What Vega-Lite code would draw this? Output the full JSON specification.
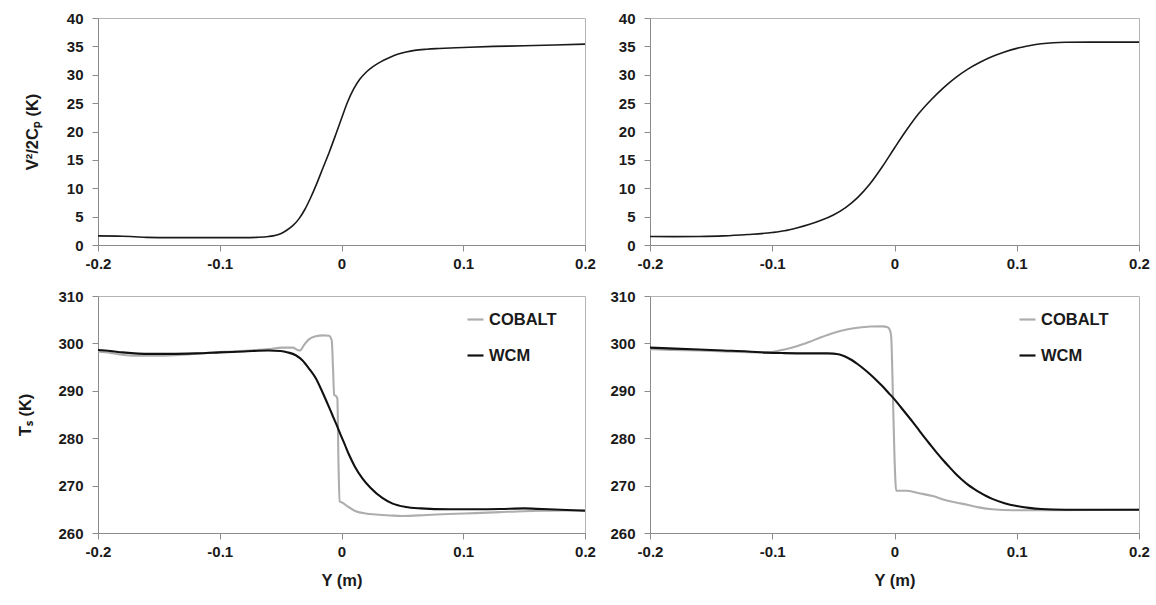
{
  "$schema": "https://vega.github.io/schema/vega-lite/v6.json",
  "background": "white",
  "padding": {"left": 17, "top": 10, "right": 5, "bottom": 5},
  "datasets": {
    "tl": [
      {"Y": -0.2, "v": 1.6}, {"Y": -0.18, "v": 1.55}, {"Y": -0.17, "v": 1.45}, {"Y": -0.16, "v": 1.35},
      {"Y": -0.14, "v": 1.3}, {"Y": -0.12, "v": 1.3}, {"Y": -0.1, "v": 1.3}, {"Y": -0.08, "v": 1.3},
      {"Y": -0.07, "v": 1.35}, {"Y": -0.06, "v": 1.5}, {"Y": -0.05, "v": 2.0}, {"Y": -0.045, "v": 2.6},
      {"Y": -0.04, "v": 3.4}, {"Y": -0.035, "v": 4.6}, {"Y": -0.03, "v": 6.3}, {"Y": -0.025, "v": 8.5},
      {"Y": -0.02, "v": 11.0}, {"Y": -0.015, "v": 13.7}, {"Y": -0.01, "v": 16.4}, {"Y": -0.005, "v": 19.3},
      {"Y": 0.0, "v": 22.3}, {"Y": 0.005, "v": 25.2}, {"Y": 0.01, "v": 27.5}, {"Y": 0.015, "v": 29.2},
      {"Y": 0.02, "v": 30.4}, {"Y": 0.025, "v": 31.3}, {"Y": 0.03, "v": 32.0}, {"Y": 0.035, "v": 32.6},
      {"Y": 0.04, "v": 33.1}, {"Y": 0.046, "v": 33.6}, {"Y": 0.053, "v": 34.0}, {"Y": 0.06, "v": 34.3},
      {"Y": 0.07, "v": 34.5}, {"Y": 0.08, "v": 34.62}, {"Y": 0.1, "v": 34.8}, {"Y": 0.125, "v": 35.0},
      {"Y": 0.15, "v": 35.1}, {"Y": 0.175, "v": 35.25}, {"Y": 0.2, "v": 35.4}
    ],
    "tr": [
      {"Y": -0.2, "v": 1.5}, {"Y": -0.18, "v": 1.47}, {"Y": -0.16, "v": 1.5}, {"Y": -0.14, "v": 1.6},
      {"Y": -0.12, "v": 1.85}, {"Y": -0.1, "v": 2.2}, {"Y": -0.09, "v": 2.5}, {"Y": -0.08, "v": 3.0},
      {"Y": -0.07, "v": 3.6}, {"Y": -0.06, "v": 4.35}, {"Y": -0.05, "v": 5.3}, {"Y": -0.04, "v": 6.6},
      {"Y": -0.03, "v": 8.4}, {"Y": -0.02, "v": 10.8}, {"Y": -0.01, "v": 13.8}, {"Y": 0.0, "v": 17.1},
      {"Y": 0.01, "v": 20.3}, {"Y": 0.02, "v": 23.2}, {"Y": 0.03, "v": 25.6}, {"Y": 0.04, "v": 27.7},
      {"Y": 0.05, "v": 29.5}, {"Y": 0.06, "v": 31.0}, {"Y": 0.07, "v": 32.2}, {"Y": 0.08, "v": 33.2},
      {"Y": 0.09, "v": 34.0}, {"Y": 0.1, "v": 34.65}, {"Y": 0.11, "v": 35.1}, {"Y": 0.12, "v": 35.45},
      {"Y": 0.13, "v": 35.65}, {"Y": 0.14, "v": 35.72}, {"Y": 0.16, "v": 35.75}, {"Y": 0.2, "v": 35.75}
    ],
    "bl": [
      {"s": "COBALT", "Y": -0.2, "v": 298.3}, {"s": "COBALT", "Y": -0.19, "v": 298.0}, {"s": "COBALT", "Y": -0.18, "v": 297.6},
      {"s": "COBALT", "Y": -0.17, "v": 297.4}, {"s": "COBALT", "Y": -0.15, "v": 297.4}, {"s": "COBALT", "Y": -0.13, "v": 297.6},
      {"s": "COBALT", "Y": -0.11, "v": 298.0}, {"s": "COBALT", "Y": -0.09, "v": 298.3}, {"s": "COBALT", "Y": -0.07, "v": 298.6},
      {"s": "COBALT", "Y": -0.06, "v": 298.8}, {"s": "COBALT", "Y": -0.0486, "v": 299.1}, {"s": "COBALT", "Y": -0.04, "v": 299.1},
      {"s": "COBALT", "Y": -0.036, "v": 298.6}, {"s": "COBALT", "Y": -0.034, "v": 298.5}, {"s": "COBALT", "Y": -0.031, "v": 299.6},
      {"s": "COBALT", "Y": -0.027, "v": 300.8}, {"s": "COBALT", "Y": -0.0212, "v": 301.5}, {"s": "COBALT", "Y": -0.015, "v": 301.7},
      {"s": "COBALT", "Y": -0.0103, "v": 301.6}, {"s": "COBALT", "Y": -0.008, "v": 300.6}, {"s": "COBALT", "Y": -0.007, "v": 295.0},
      {"s": "COBALT", "Y": -0.006, "v": 289.1}, {"s": "COBALT", "Y": -0.0045, "v": 288.9}, {"s": "COBALT", "Y": -0.0034, "v": 288.4},
      {"s": "COBALT", "Y": -0.0025, "v": 275.0}, {"s": "COBALT", "Y": -0.0015, "v": 266.7}, {"s": "COBALT", "Y": 0.0007, "v": 266.4},
      {"s": "COBALT", "Y": 0.005, "v": 265.6}, {"s": "COBALT", "Y": 0.0117, "v": 264.6}, {"s": "COBALT", "Y": 0.02, "v": 264.1},
      {"s": "COBALT", "Y": 0.028, "v": 263.9}, {"s": "COBALT", "Y": 0.04, "v": 263.7}, {"s": "COBALT", "Y": 0.05, "v": 263.6},
      {"s": "COBALT", "Y": 0.07, "v": 263.8}, {"s": "COBALT", "Y": 0.088, "v": 264.0}, {"s": "COBALT", "Y": 0.11, "v": 264.2},
      {"s": "COBALT", "Y": 0.13, "v": 264.4}, {"s": "COBALT", "Y": 0.15, "v": 264.6}, {"s": "COBALT", "Y": 0.17, "v": 264.7},
      {"s": "COBALT", "Y": 0.2, "v": 264.8},
      {"s": "WCM", "Y": -0.2, "v": 298.6}, {"s": "WCM", "Y": -0.19, "v": 298.4}, {"s": "WCM", "Y": -0.18, "v": 298.1},
      {"s": "WCM", "Y": -0.17, "v": 297.9}, {"s": "WCM", "Y": -0.16, "v": 297.8}, {"s": "WCM", "Y": -0.14, "v": 297.8},
      {"s": "WCM", "Y": -0.12, "v": 297.9}, {"s": "WCM", "Y": -0.1, "v": 298.1}, {"s": "WCM", "Y": -0.08, "v": 298.3},
      {"s": "WCM", "Y": -0.06, "v": 298.5}, {"s": "WCM", "Y": -0.05, "v": 298.4}, {"s": "WCM", "Y": -0.044, "v": 298.1},
      {"s": "WCM", "Y": -0.0376, "v": 297.5}, {"s": "WCM", "Y": -0.032, "v": 296.4}, {"s": "WCM", "Y": -0.0267, "v": 294.7},
      {"s": "WCM", "Y": -0.021, "v": 292.6}, {"s": "WCM", "Y": -0.0158, "v": 289.8}, {"s": "WCM", "Y": -0.0115, "v": 287.3},
      {"s": "WCM", "Y": -0.0075, "v": 284.9}, {"s": "WCM", "Y": -0.004, "v": 282.8}, {"s": "WCM", "Y": -0.0007, "v": 280.7},
      {"s": "WCM", "Y": 0.0028, "v": 278.6}, {"s": "WCM", "Y": 0.0062, "v": 276.5}, {"s": "WCM", "Y": 0.011, "v": 274.0},
      {"s": "WCM", "Y": 0.017, "v": 271.6}, {"s": "WCM", "Y": 0.024, "v": 269.5}, {"s": "WCM", "Y": 0.0335, "v": 267.4},
      {"s": "WCM", "Y": 0.042, "v": 266.2}, {"s": "WCM", "Y": 0.0527, "v": 265.5}, {"s": "WCM", "Y": 0.065, "v": 265.2},
      {"s": "WCM", "Y": 0.088, "v": 265.0}, {"s": "WCM", "Y": 0.11, "v": 265.0}, {"s": "WCM", "Y": 0.13, "v": 265.05},
      {"s": "WCM", "Y": 0.15, "v": 265.2}, {"s": "WCM", "Y": 0.16, "v": 265.1}, {"s": "WCM", "Y": 0.18, "v": 264.9},
      {"s": "WCM", "Y": 0.2, "v": 264.7}
    ],
    "br": [
      {"s": "COBALT", "Y": -0.2, "v": 298.8}, {"s": "COBALT", "Y": -0.18, "v": 298.6}, {"s": "COBALT", "Y": -0.16, "v": 298.5},
      {"s": "COBALT", "Y": -0.14, "v": 298.3}, {"s": "COBALT", "Y": -0.12, "v": 298.15}, {"s": "COBALT", "Y": -0.105, "v": 298.1},
      {"s": "COBALT", "Y": -0.1, "v": 298.2}, {"s": "COBALT", "Y": -0.09, "v": 298.7}, {"s": "COBALT", "Y": -0.08, "v": 299.4},
      {"s": "COBALT", "Y": -0.07, "v": 300.3}, {"s": "COBALT", "Y": -0.06, "v": 301.3}, {"s": "COBALT", "Y": -0.05, "v": 302.2},
      {"s": "COBALT", "Y": -0.04, "v": 302.9}, {"s": "COBALT", "Y": -0.03, "v": 303.3}, {"s": "COBALT", "Y": -0.02, "v": 303.55},
      {"s": "COBALT", "Y": -0.01, "v": 303.6}, {"s": "COBALT", "Y": -0.0055, "v": 303.4}, {"s": "COBALT", "Y": -0.0035, "v": 302.6},
      {"s": "COBALT", "Y": -0.0027, "v": 301.4}, {"s": "COBALT", "Y": -0.0014, "v": 290.1}, {"s": "COBALT", "Y": 0.0, "v": 276.0},
      {"s": "COBALT", "Y": 0.0014, "v": 268.9}, {"s": "COBALT", "Y": 0.0095, "v": 268.9}, {"s": "COBALT", "Y": 0.02, "v": 268.4},
      {"s": "COBALT", "Y": 0.0313, "v": 267.8}, {"s": "COBALT", "Y": 0.042, "v": 266.9}, {"s": "COBALT", "Y": 0.055, "v": 266.2},
      {"s": "COBALT", "Y": 0.069, "v": 265.4}, {"s": "COBALT", "Y": 0.08, "v": 265.0}, {"s": "COBALT", "Y": 0.0966, "v": 264.8},
      {"s": "COBALT", "Y": 0.124, "v": 264.8}, {"s": "COBALT", "Y": 0.2, "v": 264.9},
      {"s": "WCM", "Y": -0.2, "v": 299.1}, {"s": "WCM", "Y": -0.18, "v": 298.9}, {"s": "WCM", "Y": -0.16, "v": 298.7},
      {"s": "WCM", "Y": -0.14, "v": 298.5}, {"s": "WCM", "Y": -0.12, "v": 298.3}, {"s": "WCM", "Y": -0.105, "v": 298.05},
      {"s": "WCM", "Y": -0.09, "v": 297.95}, {"s": "WCM", "Y": -0.07, "v": 297.9}, {"s": "WCM", "Y": -0.055, "v": 297.9},
      {"s": "WCM", "Y": -0.05, "v": 297.85}, {"s": "WCM", "Y": -0.045, "v": 297.65}, {"s": "WCM", "Y": -0.04, "v": 297.2},
      {"s": "WCM", "Y": -0.035, "v": 296.5}, {"s": "WCM", "Y": -0.03, "v": 295.6}, {"s": "WCM", "Y": -0.025, "v": 294.6},
      {"s": "WCM", "Y": -0.02, "v": 293.5}, {"s": "WCM", "Y": -0.015, "v": 292.3}, {"s": "WCM", "Y": -0.01, "v": 291.0},
      {"s": "WCM", "Y": -0.005, "v": 289.6}, {"s": "WCM", "Y": 0.0, "v": 288.2}, {"s": "WCM", "Y": 0.005, "v": 286.6},
      {"s": "WCM", "Y": 0.01, "v": 285.0}, {"s": "WCM", "Y": 0.015, "v": 283.4}, {"s": "WCM", "Y": 0.02, "v": 281.7},
      {"s": "WCM", "Y": 0.025, "v": 280.0}, {"s": "WCM", "Y": 0.03, "v": 278.4}, {"s": "WCM", "Y": 0.035, "v": 276.8},
      {"s": "WCM", "Y": 0.04, "v": 275.3}, {"s": "WCM", "Y": 0.045, "v": 273.9}, {"s": "WCM", "Y": 0.05, "v": 272.5},
      {"s": "WCM", "Y": 0.055, "v": 271.3}, {"s": "WCM", "Y": 0.06, "v": 270.2}, {"s": "WCM", "Y": 0.065, "v": 269.3},
      {"s": "WCM", "Y": 0.07, "v": 268.5}, {"s": "WCM", "Y": 0.075, "v": 267.8}, {"s": "WCM", "Y": 0.08, "v": 267.2},
      {"s": "WCM", "Y": 0.09, "v": 266.3}, {"s": "WCM", "Y": 0.1, "v": 265.7}, {"s": "WCM", "Y": 0.11, "v": 265.3},
      {"s": "WCM", "Y": 0.12, "v": 265.05}, {"s": "WCM", "Y": 0.13, "v": 264.95}, {"s": "WCM", "Y": 0.15, "v": 264.9},
      {"s": "WCM", "Y": 0.2, "v": 264.9}
    ]
  },
  "columns": 2,
  "spacing": {"row": 51, "column": 65},
  "bounds": "flush",
  "align": "each",
  "concat": [
    {
      "width": 487, "height": 227,
      "data": {"name": "tl"},
      "mark": {"type": "line", "color": "#1a1a1a", "strokeWidth": 1.6, "interpolate": "monotone"},
      "encoding": {
        "x": {"field": "Y", "type": "quantitative", "scale": {"domain": [-0.2, 0.2], "nice": false},
              "axis": {"values": [-0.2, -0.1, 0, 0.1, 0.2], "title": null,
                       "labelExpr": "datum.value == 0 ? '0' : (datum.value < 0 ? '-' : '') + format(abs(datum.value), '.1f')"}},
        "y": {"field": "v", "type": "quantitative", "scale": {"domain": [0, 40], "nice": false},
              "axis": {"values": [0, 5, 10, 15, 20, 25, 30, 35, 40], "title": "V²/2Cₚ (K)", "titlePadding": 26}}
      }
    },
    {
      "width": 489, "height": 227,
      "data": {"name": "tr"},
      "mark": {"type": "line", "color": "#1a1a1a", "strokeWidth": 1.6, "interpolate": "monotone"},
      "encoding": {
        "x": {"field": "Y", "type": "quantitative", "scale": {"domain": [-0.2, 0.2], "nice": false},
              "axis": {"values": [-0.2, -0.1, 0, 0.1, 0.2], "title": null,
                       "labelExpr": "datum.value == 0 ? '0' : (datum.value < 0 ? '-' : '') + format(abs(datum.value), '.1f')"}},
        "y": {"field": "v", "type": "quantitative", "scale": {"domain": [0, 40], "nice": false},
              "axis": {"values": [0, 5, 10, 15, 20, 25, 30, 35, 40], "title": null}}
      }
    },
    {
      "width": 487, "height": 237,
      "data": {"name": "bl"},
      "mark": {"type": "line", "strokeWidth": 2.1, "interpolate": "monotone"},
      "encoding": {
        "x": {"field": "Y", "type": "quantitative", "scale": {"domain": [-0.2, 0.2], "nice": false},
              "axis": {"values": [-0.2, -0.1, 0, 0.1, 0.2], "title": "Y (m)",
                       "labelExpr": "datum.value == 0 ? '0' : (datum.value < 0 ? '-' : '') + format(abs(datum.value), '.1f')"}},
        "y": {"field": "v", "type": "quantitative", "scale": {"domain": [260, 310], "nice": false},
              "axis": {"values": [260, 270, 280, 290, 300, 310], "title": "Tₛ (K)", "titlePadding": 24}},
        "color": {"field": "s", "type": "nominal",
                  "scale": {"domain": ["COBALT", "WCM"], "range": ["#adadad", "#111111"]},
                  "legend": {"title": null, "orient": "none", "legendX": 368, "legendY": 14}}
      }
    },
    {
      "width": 489, "height": 237,
      "data": {"name": "br"},
      "mark": {"type": "line", "strokeWidth": 2.1, "interpolate": "monotone"},
      "encoding": {
        "x": {"field": "Y", "type": "quantitative", "scale": {"domain": [-0.2, 0.2], "nice": false},
              "axis": {"values": [-0.2, -0.1, 0, 0.1, 0.2], "title": "Y (m)",
                       "labelExpr": "datum.value == 0 ? '0' : (datum.value < 0 ? '-' : '') + format(abs(datum.value), '.1f')"}},
        "y": {"field": "v", "type": "quantitative", "scale": {"domain": [260, 310], "nice": false},
              "axis": {"values": [260, 270, 280, 290, 300, 310], "title": null}},
        "color": {"field": "s", "type": "nominal",
                  "scale": {"domain": ["COBALT", "WCM"], "range": ["#adadad", "#111111"]},
                  "legend": {"title": null, "orient": "none", "legendX": 368, "legendY": 14}}
      }
    }
  ],
  "resolve": {"scale": {"color": "independent", "x": "independent", "y": "independent"}, "legend": {"color": "independent"}},
  "config": {
    "font": "Liberation Sans",
    "view": {"stroke": "#b4b4b4", "strokeWidth": 1},
    "axis": {
      "grid": false, "domainColor": "#8c8c8c", "tickColor": "#8c8c8c", "tickSize": 6,
      "labelFont": "Liberation Sans", "labelFontWeight": "bold", "labelFontSize": 15, "labelColor": "#1a1a1a",
      "titleFont": "Liberation Sans", "titleFontWeight": "bold", "titleFontSize": 16.5, "titleColor": "#1a1a1a"
    },
    "axisX": {"labelPadding": 5, "labelFlush": false, "titlePadding": 13},
    "axisY": {"labelPadding": 9},
    "legend": {
      "labelFont": "Liberation Sans", "labelFontSize": 16.5, "labelFontWeight": "bold", "labelColor": "#1a1a1a",
      "symbolType": "stroke", "symbolStrokeWidth": 2.2, "symbolSize": 256, "rowPadding": 18, "labelOffset": 4
    }
  }
}
